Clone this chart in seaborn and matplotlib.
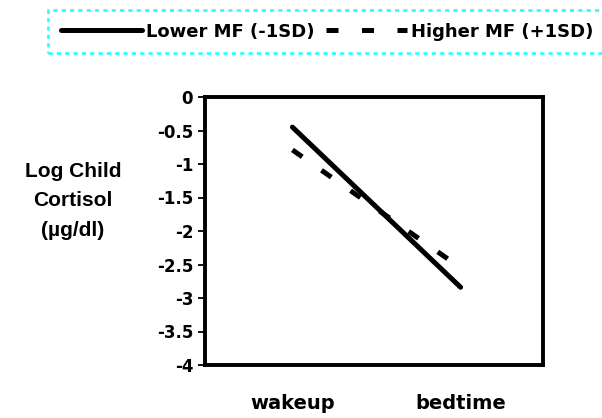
"""Child cortisol slope by MF level"""
import matplotlib
matplotlib.use("Agg")
import matplotlib.pyplot as plt
import pandas as pd
import seaborn as sns

TIMES = ["wakeup", "bedtime"]
GROUPS = ["Lower MF (-1SD)", "Higher MF (+1SD)"]
LOWER_MF = [-0.45, -2.84]
HIGHER_MF = [-0.79, -2.55]
Y_TICKS = [0, -0.5, -1, -1.5, -2, -2.5, -3, -3.5, -4]
Y_TICK_LABELS = ["0", "-0.5", "-1", "-1.5", "-2", "-2.5", "-3", "-3.5", "-4"]
Y_LABEL = "Log Child\nCortisol\n(µg/dl)"


def build_frame():
    rows = []
    for group, vals in zip(GROUPS, [LOWER_MF, HIGHER_MF]):
        for i, (t, v) in enumerate(zip(TIMES, vals)):
            rows.append({"pos": i, "time": t, "cortisol": v, "group": group})
    return pd.DataFrame(rows)


def plot_cortisol():
    sns.set_style("white")
    plt.rcParams["font.family"] = ["DejaVu Sans"]
    plt.rcParams["font.weight"] = "bold"
    plt.rcParams["text.color"] = "black"
    plt.rcParams["xtick.color"] = "black"
    plt.rcParams["ytick.color"] = "black"

    df = build_frame()
    fig = plt.figure(figsize=(6.02, 4.18), dpi=100)
    # axes box: x 205-543 px, y 97-365 px
    ax = fig.add_axes([205 / 602, 1 - 365 / 418, 338 / 602, 268 / 418])

    sns.lineplot(data=df, x="pos", y="cortisol", hue="group", style="group",
                 palette=["black", "black"],
                 dashes={GROUPS[0]: "", GROUPS[1]: (2.4, 4.7)},
                 linewidth=3.6, ax=ax, legend=True)
    for line in ax.get_lines():
        line.set_solid_capstyle("round")
        line.set_dash_capstyle("butt")

    ax.set_xlim(-0.52, 1.49)
    ax.set_ylim(-4, 0)
    ax.set_xticks(range(len(TIMES)))
    ax.set_xticklabels(TIMES, fontsize=14, fontweight="bold", color="black")
    ax.tick_params(axis="x", length=0, pad=21)
    ax.set_yticks(Y_TICKS)
    ax.set_yticklabels(Y_TICK_LABELS, fontsize=12, fontweight="bold",
                       color="black")
    ax.tick_params(axis="y", left=True, length=5, width=1.3,
                   direction="out", pad=3.5, color="black")
    ax.set_xlabel("")
    ax.set_ylabel("")
    for sp in ax.spines.values():
        sp.set_linewidth(2.8)
        sp.set_color("black")

    fig.text(73 / 602, 1 - 201 / 418, Y_LABEL, ha="center", va="center",
             fontsize=15, fontweight="bold", linespacing=1.7, color="black",
             family=["Liberation Sans", "DejaVu Sans"])

    handles, labels = ax.get_legend_handles_labels()
    ax.get_legend().remove()
    leg = fig.legend(handles, labels, loc="upper left",
                     bbox_to_anchor=(48 / 602, 1 - 10 / 418), ncol=2,
                     handlelength=4.5, handletextpad=0.2, columnspacing=0.66,
                     borderpad=0.7, borderaxespad=0, fancybox=False,
                     prop={"size": 13, "weight": "bold"})
    frame = leg.get_frame()
    frame.set_edgecolor("#00FFFF")
    frame.set_linestyle((0, (1.5, 1.5)))
    frame.set_linewidth(2)
    for line in leg.get_lines():
        line.set_linewidth(3.6)
    for text in leg.get_texts():
        text.set_color("black")

    fig.savefig("out.png", dpi=100)


if __name__ == "__main__":
    plot_cortisol()
